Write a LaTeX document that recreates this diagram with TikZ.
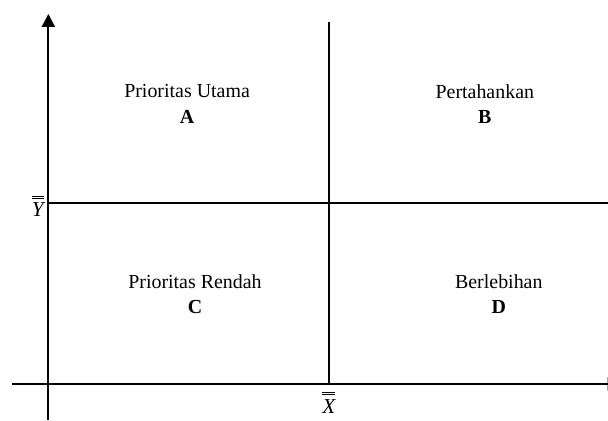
\documentclass[tikz,border=0pt]{standalone}
\usepackage{fontspec}
\setmainfont{Liberation Serif}
\usetikzlibrary{arrows.meta}

\newcommand{\dbar}[1]{\overline{\overline{\rule{0pt}{0.78em}\textit{#1}}}}

\begin{document}
\begin{tikzpicture}[
	axis/.style={line width=1.6pt, -{Triangle[width=0.34cm,length=0.34cm]}},
	divider/.style={line width=1.2pt},
	quad/.style={align=center, font=\fontsize{15}{19}\selectfont},
	mean/.style={inner sep=0pt, font=\fontsize{16}{19}\selectfont}]
	\useasboundingbox (0,0) rectangle (16.09,11.14);
	% axes
	\draw [axis] (1.28,0.03)--(1.28,10.77);
	\draw [axis] (0.32,0.98)--(16.42,0.98);
	% dividers
	\draw [divider] (8.70,10.56)--(8.70,0.98);
	\draw [divider] (1.28,5.77)--(16.09,5.77);
	% means
	\node [mean, anchor=base east] (ybar) at (1.16,5.40) {$\dbar{Y}$};
	\node [mean, anchor=base] (xbar) at (8.70,0.21) {$\dbar{X}$};
	% quadrants
	\node [quad] (qa) at (4.95,8.39) {Prioritas Utama\\ \textbf{A}};
	\node [quad] (qb) at (12.83,8.39) {Pertahankan\\ \textbf{B}};
	\node [quad] (qc) at (5.16,3.36) {Prioritas Rendah\\ \textbf{C}};
	\node [quad] (qd) at (13.20,3.36) {Berlebihan\\ \textbf{D}};
\end{tikzpicture}
\end{document}
